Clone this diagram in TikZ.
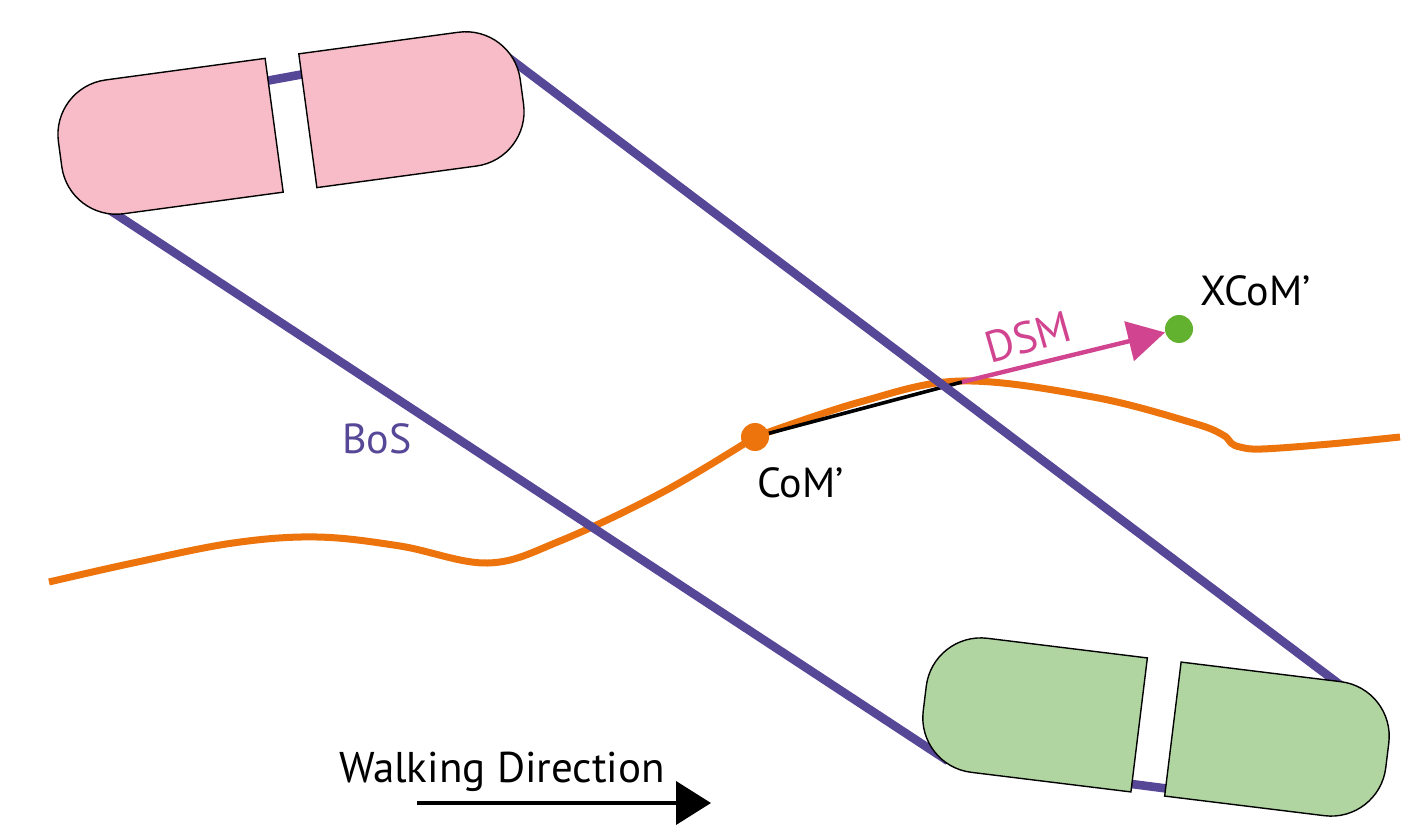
\documentclass[tikz,border=0pt]{standalone}
\usepackage{fontspec}
\setmainfont{PT Sans}
\usetikzlibrary{arrows.meta}
\definecolor{bos}{RGB}{87,71,151}
\definecolor{pinkfoot}{RGB}{247,188,199}
\definecolor{greenfoot}{RGB}{177,213,160}
\definecolor{traj}{RGB}{237,116,12}
\definecolor{dsmcol}{RGB}{209,69,144}
\definecolor{xcomcol}{RGB}{99,178,47}
\newcommand\drawfootpieces[1]{%
  \draw[footpiece,fill=#1] (-17,-67.5) -- (-178,-67.5) .. controls (-208.4,-67.5) and (-233,-42.9) .. (-233,-12.5) -- (-233,12.5) .. controls (-233,42.9) and (-208.4,67.5) .. (-178,67.5) -- (-17,67.5) -- cycle;
  \draw[footpiece,fill=#1] (17,-67.5) -- (178,-67.5) .. controls (208.4,-67.5) and (233,-42.9) .. (233,-12.5) -- (233,12.5) .. controls (233,42.9) and (208.4,67.5) .. (178,67.5) -- (17,67.5) -- cycle;
}
\begin{document}
\begin{tikzpicture}[x=0.5pt,y=-0.5pt,
  bosline/.style={draw=bos,line width=4.3pt},
  footpiece/.style={draw=black,line width=0.7pt},
  trajline/.style={draw=traj,line width=3.5pt},
  lbl/.style={inner sep=0pt,font=\fontsize{21}{25}\selectfont},
  dot/.style={circle,inner sep=0pt,minimum size=14pt}]
\useasboundingbox (0,0) rectangle (1424,828);

% trajectory of the centre of mass
\draw[trajline] plot[smooth,tension=0.6] coordinates {(49,582) (133,563) (233,543) (317,537) (400,546) (488,563) (560,541) (663,492) (755,437)};
\draw[trajline] plot[smooth,tension=0.6] coordinates {(755,437) (860,402) (962,381) (1093,397) (1193,423) (1223,435) (1231,443) (1240,447) (1262,449) (1330,444) (1400,437)};

\node[dot,fill=traj] (com) at (755,437) {};
\coordinate (peak) at (962,382);
\node[dot,fill=xcomcol] (xcom) at (1179,329) {};

\draw[black,line width=1.8pt] (com) -- (peak);
\draw[dsmcol,line width=2.2pt,-{Triangle[length=18.5pt,width=20pt]}] (peak) -- (xcom);

% base of support
\coordinate (t1) at (505,55);
\coordinate (b1) at (1355,696);
\coordinate (t2) at (108,209);
\coordinate (b2) at (948,761);
\draw[bosline] (t1) -- (b1);
\draw[bosline] (t2) -- (b2);
\coordinate (tb1) at (255,83);
\coordinate (tb2) at (315,72);
\coordinate (bb1) at (1120,782.5);
\coordinate (bb2) at (1178,790);
\draw[bosline] (tb1) -- (tb2);
\draw[bosline] (bb1) -- (bb2);

% feet
\begin{scope}[shift={(291,123)},rotate=7.7]
  \drawfootpieces{pinkfoot}
\end{scope}
\begin{scope}[shift={(1156,727)},rotate=-7]
  \drawfootpieces{greenfoot}
\end{scope}

% labels
\node[lbl,anchor=base west,text=bos] (boslbl) at (342,453) {BoS};
\node[lbl,anchor=base west] (comlbl) at (757,497) {CoM’};
\node[lbl,anchor=base west] (xcomlbl) at (1200,306) {XCoM’};
\node[lbl,anchor=base west,text=dsmcol,rotate=16,font=\fontsize{22}{26}\selectfont] (dsmlbl) at (990,364) {DSM};

% walking direction
\node[lbl,anchor=base,font=\fontsize{21.5}{26}\selectfont] (walk) at (502,782) {Walking Direction};
\coordinate (w1) at (417,803);
\coordinate (w2) at (711,803);
\draw[black,line width=2pt,-{Triangle[length=17.5pt,width=21.5pt]}] (w1) -- (w2);
\end{tikzpicture}
\end{document}
